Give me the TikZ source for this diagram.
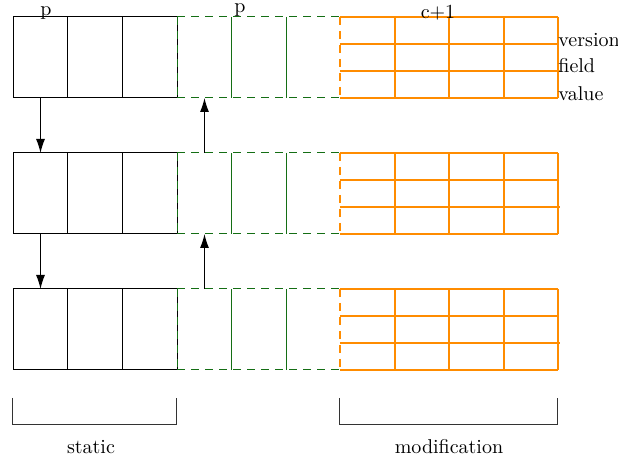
\documentclass[tikz,border=0pt]{standalone}
\usetikzlibrary{arrows.meta}
\definecolor{grn}{RGB}{20,110,20}
\definecolor{org}{RGB}{255,140,0}
\begin{document}
\begin{tikzpicture}[x=0.5pt,y=-0.5pt,
  cell/.style={draw=black,line width=0.5pt,minimum width=27.4pt,minimum height=40.5pt,inner sep=0pt,outer sep=0pt},
  gcell/.style={minimum width=27.2pt,minimum height=40.5pt,inner sep=0pt,outer sep=0pt},
  gdash/.style={draw=grn,dashed,dash pattern=on 4pt off 3pt,line width=0.5pt},
  gsolid/.style={draw=grn,line width=0.55pt},
  ogrid/.style={draw=org,line width=0.6pt},
  odash/.style={draw=org,dashed,dash pattern=on 4pt off 3pt,line width=0.6pt},
  arr/.style={-{Latex[length=7pt,width=4.5pt]},line width=0.5pt},
  lbl/.style={inner sep=0pt,font=\normalsize},
  brace/.style={draw=black!80,line width=0.5pt}]
\useasboundingbox (0,0) rectangle (618,458);
\foreach \r/\y in {1/17,2/153,3/289}{
  % black cells
  \node[cell] (b\r1) at (40.5,\y+40.5) {};
  \node[cell] (b\r2) at (95.25,\y+40.5) {};
  \node[cell] (b\r3) at (150,\y+40.5) {};
  % green cells
  \node[gcell] (g\r1) at (204.5,\y+40.5) {};
  \node[gcell] (g\r2) at (259,\y+40.5) {};
  \node[gcell] (g\r3) at (313,\y+40.5) {};
  \draw[gdash] (g\r1.north west) -- (g\r3.north east);
  \draw[gdash] (g\r1.south west) -- (g\r3.south east);
  \draw[gdash] (g\r1.north west) -- (g\r1.south west);
  \draw[gsolid] (g\r1.north east) -- (g\r1.south east);
  \draw[gsolid] (g\r2.north east) -- (g\r2.south east);
  % orange grid
  \draw[ogrid] (340,\y) -- (558,\y);
  \draw[ogrid] (340,\y+27) -- (559,\y+27);
  \draw[ogrid] (340,\y+54) -- (560,\y+54);
  \draw[ogrid] (340,\y+81) -- (558,\y+81);
  \foreach \x in {395,449,504,558}{\draw[ogrid] (\x,\y) -- (\x,\y+81);}
  \draw[odash] (340,\y) -- (340,\y+81);
}
% arrows
\draw[arr] (b11.south) -- (b21.north);
\draw[arr] (b21.south) -- (b31.north);
\draw[arr] (g21.north) -- (g11.south);
\draw[arr] (g31.north) -- (g21.south);
% top labels
\node[lbl] (p1) at (46,13) {p};
\node[lbl] (p2) at (240,10) {p};
\node[lbl] (c1) at (438,13) {c+1};
\node[lbl,anchor=west] (ver) at (558,40) {version};
\node[lbl,anchor=west] (fld) at (558,66) {field};
\node[lbl,anchor=west] (val) at (558,94) {value};
% braces
\draw[brace] (13,398) -- (13,425) -- (177,425) -- (177,398);
\draw[brace] (340,398) -- (340,425) -- (558,425) -- (558,398);
\node[lbl] (st) at (91,447) {static};
\node[lbl] (mod) at (449,447) {modification};
\end{tikzpicture}
\end{document}
